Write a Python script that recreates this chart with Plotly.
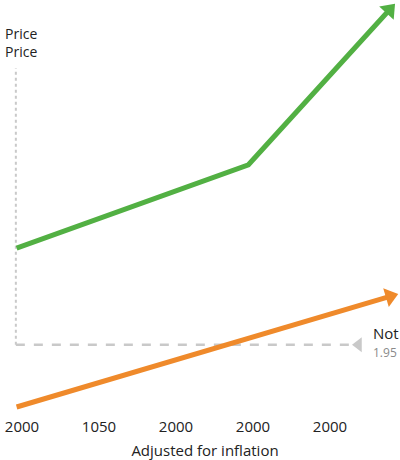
import plotly.graph_objects as go

# ---- data ----
tick_positions = [0, 1, 2, 3, 4]
tick_labels = ["2000", "1050", "2000", "2000", "2000"]

green_x = [-0.07, 2.94, 4.77]
green_y = [0.96, 1.79, 3.33]

orange_x = [-0.07, 4.78]
orange_y = [-0.62, 0.48]

ref_x = [-0.08, 4.26]
ref_y = [0.0, 0.0]
ref_marker_x = [4.37]
ref_marker_y = [0.0]

axis_x = [-0.08, -0.08]
axis_y = [0.0, 2.75]

y_label_lines = ["Price", "Price"]
x_title = "Adjusted for inflation"
right_label = "Not"
right_value = "1.95"

GREEN = "#52b043"
ORANGE = "#ef8a2b"
GREY = "#c9c9c9"
FONT = "Open Sans"

fig = go.Figure()

# vertical dotted axis
fig.add_trace(go.Scatter(x=axis_x, y=axis_y, mode="lines",
                         line=dict(color=GREY, width=2, dash="dot"),
                         hoverinfo="skip", cliponaxis=False))
# horizontal dashed reference line
fig.add_trace(go.Scatter(x=ref_x, y=ref_y, mode="lines",
                         line=dict(color=GREY, width=2.5, dash="dash"),
                         hoverinfo="skip", cliponaxis=False))
fig.add_trace(go.Scatter(x=ref_marker_x, y=ref_marker_y, mode="markers",
                         marker=dict(symbol="triangle-left", size=13, color=GREY,
                                     line=dict(width=0)),
                         hoverinfo="skip", cliponaxis=False))

# green series with arrow head
fig.add_trace(go.Scatter(x=green_x, y=green_y, mode="lines+markers",
                         line=dict(color=GREEN, width=5),
                         marker=dict(symbol="triangle-up", angleref="previous",
                                     size=[0, 0, 17], color=GREEN, opacity=1,
                                     line=dict(width=0)),
                         cliponaxis=False))
# orange series with arrow head
fig.add_trace(go.Scatter(x=orange_x, y=orange_y, mode="lines+markers",
                         line=dict(color=ORANGE, width=5),
                         marker=dict(symbol="triangle-up", angleref="previous",
                                     size=[0, 17], color=ORANGE, opacity=1,
                                     line=dict(width=0)),
                         cliponaxis=False))

annotations = []
for k, txt in enumerate(y_label_lines):
    annotations.append(dict(text=txt, xref="paper", yref="paper",
                            x=-0.018, y=0.947 - k * 0.044,
                            xanchor="left", yanchor="top", showarrow=False,
                            font=dict(size=14, color="#222222")))
annotations += [
    dict(text=right_label, xref="x", yref="y", x=4.535, y=0.115,
         xanchor="left", yanchor="middle", showarrow=False,
         font=dict(size=15, color="#222222")),
    dict(text=right_value, xref="x", yref="y", x=4.535, y=-0.075,
         xanchor="left", yanchor="middle", showarrow=False,
         font=dict(size=12, color="#8a8a8a")),
]

fig.update_layout(
    width=400, height=460,
    margin=dict(l=10, r=0, t=0, b=48),
    paper_bgcolor="white", plot_bgcolor="white",
    showlegend=False,
    font=dict(family=FONT, size=15, color="#222222"),
    xaxis=dict(range=[-0.156, 4.909], tickmode="array",
               tickvals=tick_positions, ticktext=tick_labels,
               showgrid=False, zeroline=False, showline=False, ticks="",
               ticklabelstandoff=4,
               tickfont=dict(size=15, color="#222222"),
               title=dict(text=x_title, font=dict(size=15, color="#222222"),
                          standoff=12)),
    yaxis=dict(range=[-0.67, 3.43], showgrid=False, zeroline=False,
               showline=False, showticklabels=False, ticks=""),
    annotations=annotations,
)

fig.write_html("out.html", config={"displayModeBar": False},
               post_script="document.body.style.margin='0';")
